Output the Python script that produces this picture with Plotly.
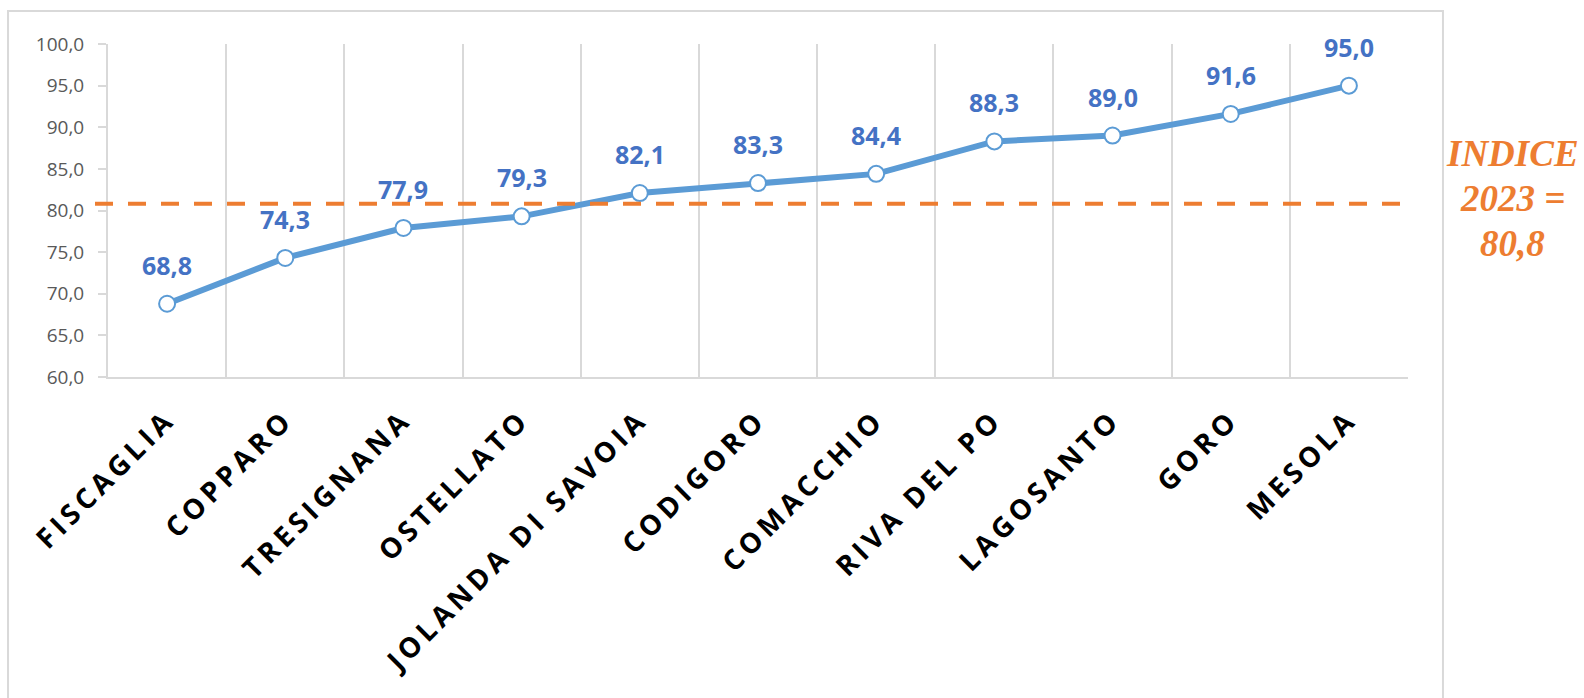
import plotly.graph_objects as go

# Comuni and their index values
comuni = ["FISCAGLIA", "COPPARO", "TRESIGNANA", "OSTELLATO", "JOLANDA DI SAVOIA",
          "CODIGORO", "COMACCHIO", "RIVA DEL PO", "LAGOSANTO", "GORO", "MESOLA"]
indice = [68.8, 74.3, 77.9, 79.3, 82.1, 83.3, 84.4, 88.3, 89.0, 91.6, 95.0]

# Reference index for 2023
indice_2023 = 80.8
riferimento_righe = ["INDICE", "2023 =", "80,8"]

LINE_BLUE = "#5B9BD5"
LABEL_BLUE = "#4472C4"
ORANGE = "#ED7D31"
GRID = "#D9D9D9"


def fmt(v):
    return f"{v:.1f}".replace(".", ",")


fig = go.Figure()

fig.add_trace(go.Scatter(
    x=comuni, y=indice, mode="lines+markers",
    line=dict(color=LINE_BLUE, width=6),
    marker=dict(size=16, color="white", line=dict(color=LINE_BLUE, width=2)),
    hoverinfo="skip", showlegend=False,
))

# value labels above each point
for c, v in zip(comuni, indice):
    fig.add_annotation(
        x=c, y=v, text=fmt(v), showarrow=False, yshift=39,
        font=dict(family="Open Sans", size=25, color=LABEL_BLUE, weight="bold"),
    )

# dashed reference line
fig.add_shape(
    type="line", xref="paper", yref="y", x0=-0.01, x1=1.0015,
    y0=indice_2023, y1=indice_2023,
    line=dict(color=ORANGE, width=4, dash="18px,15px"), layer="above",
)

# reference label to the right of the chart
for txt, yp in zip(riferimento_righe, [0.671, 0.536, 0.401]):
    fig.add_annotation(
        xref="paper", yref="paper", x=1.08, y=yp, text=txt, showarrow=False,
        xanchor="center", yanchor="middle",
        font=dict(family="Liberation Serif", size=37, color=ORANGE,
                  weight="bold", style="italic"),
    )

# outer chart frame
fig.add_shape(
    type="rect", xref="paper", yref="paper",
    x0=-0.0769, x1=1.0269, y0=-1.0, y1=1.099,
    line=dict(color=GRID, width=2), layer="below",
)

fig.update_layout(
    width=1584, height=698,
    margin=dict(l=108, r=176, t=44, b=321),
    paper_bgcolor="white", plot_bgcolor="white",
    separators=", ",
    showlegend=False,
)

fig.update_xaxes(
    type="category", range=[-0.5, len(comuni) - 0.5], tickson="boundaries",
    showgrid=True, gridcolor=GRID, gridwidth=2,
    showline=True, linecolor=GRID, linewidth=2,
    ticks="", tickangle=-45, ticklabelstandoff=13,
    tickfont=dict(family="Open Sans", size=28, color="black", weight="bold"),
)

fig.update_yaxes(
    range=[60, 100], dtick=5, tickformat=".1f",
    showgrid=False, zeroline=False,
    showline=True, linecolor=GRID, linewidth=2,
    ticks="outside", ticklen=8, tickcolor=GRID, tickwidth=2,
    ticklabelstandoff=10,
    tickfont=dict(family="Open Sans", size=19, color="#595959"),
)

spacing_js = (
    "document.querySelectorAll('.xtick text').forEach(function(t){"
    "t.style.letterSpacing='4.5px';});"
)

fig.write_html("out.html", post_script=spacing_js)
